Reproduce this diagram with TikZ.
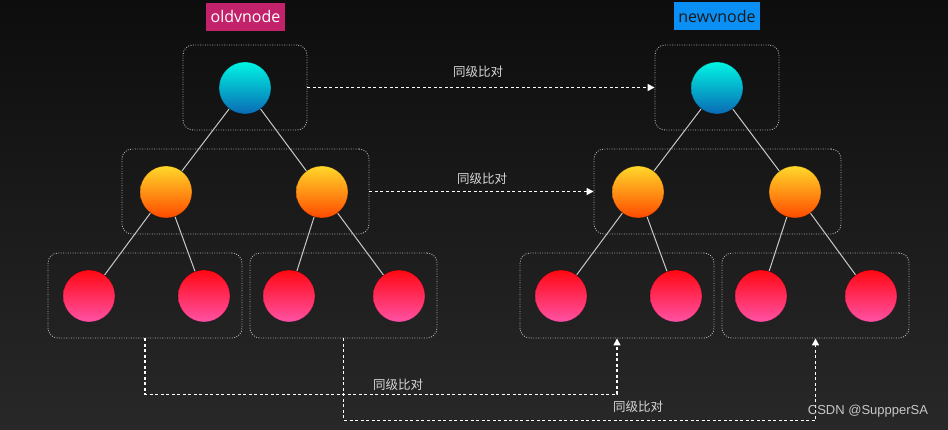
\documentclass[tikz,border=0pt]{standalone}
\usepackage{fontspec}
\setmainfont{Open Sans}
\newfontfamily\cjk{Noto Sans CJK SC}
\newfontfamily\wmfont{Liberation Sans}
\usetikzlibrary{arrows.meta}
\definecolor{bgtop}{HTML}{0D0D0D}
\definecolor{bgbot}{HTML}{282828}
\definecolor{grpc}{HTML}{B4B4B4}
\definecolor{edgec}{HTML}{C8C8C8}
\definecolor{lblc}{HTML}{D8D8D8}
\definecolor{cyT}{HTML}{00F5E4}
\definecolor{cyB}{HTML}{0A6AB4}
\definecolor{orT}{HTML}{FFD82A}
\definecolor{orB}{HTML}{FF4A00}
\definecolor{rdT}{HTML}{FF0812}
\definecolor{rdB}{HTML}{FF52A6}
\definecolor{oldc}{HTML}{C2226A}
\definecolor{newc}{HTML}{0A8FF5}
\begin{document}
\begin{tikzpicture}[x=1pt,y=-1pt,
  grp/.style={draw=grpc, line width=0.9pt, dash pattern=on 0.9pt off 1.5pt, rounded corners=10pt, minimum height=85pt, inner sep=0pt},
  ball/.style={circle, minimum size=52pt, inner sep=0pt, draw=black, draw opacity=0.35, line width=0.6pt},
  cyanb/.style={ball, top color=cyT, bottom color=cyB},
  orangeb/.style={ball, top color=orT, bottom color=orB},
  redb/.style={ball, top color=rdT, bottom color=rdB},
  link/.style={draw=edgec, line width=1pt},
  cmp/.style={draw=white, line width=1.3pt, dash pattern=on 3pt off 2.5pt, -{Triangle[length=7pt,width=7pt]}},
  lbl/.style={font=\cjk\fontsize{12.5}{14}\selectfont, text=lblc},
  title/.style={font=\fontsize{16}{18}\selectfont, minimum height=28pt, inner sep=0pt}
]
\useasboundingbox (0,0) rectangle (948,430);
\fill[top color=bgtop, bottom color=bgbot] (0,0) rectangle (948,430);

% titles
\node[title, fill=oldc, text=white, minimum width=79pt] (told) at (245.5,17) {oldvnode};
\node[title, fill=newc, text=black!90, minimum width=86pt] (tnew) at (717,16.5) {newvnode};

% group boxes left
\node[grp, minimum width=124pt] (gl1) at (245,87.5) {};
\node[grp, minimum width=247pt] (gl2) at (245.5,191.5) {};
\node[grp, minimum width=194pt] (gl3a) at (145,295.5) {};
\node[grp, minimum width=187pt] (gl3b) at (343.5,295.5) {};
% group boxes right
\node[grp, minimum width=124pt] (gr1) at (717,87.5) {};
\node[grp, minimum width=247pt] (gr2) at (717.5,191.5) {};
\node[grp, minimum width=194pt] (gr3a) at (617,295.5) {};
\node[grp, minimum width=187pt] (gr3b) at (815.5,295.5) {};

% left tree
\node[cyanb] (la) at (245,88) {};
\node[orangeb] (lb) at (166,192) {};
\node[orangeb] (lc) at (322,192) {};
\node[redb] (ld) at (89,296) {};
\node[redb] (le) at (204,296) {};
\node[redb] (lf) at (289,296) {};
\node[redb] (lg) at (399,296) {};
% right tree
\node[cyanb] (ra) at (717,88) {};
\node[orangeb] (rb) at (638,192) {};
\node[orangeb] (rc) at (795,192) {};
\node[redb] (rd) at (561,296) {};
\node[redb] (re) at (676,296) {};
\node[redb] (rf) at (761,296) {};
\node[redb] (rg) at (871,296) {};

\draw[link] (la) -- (lb);
\draw[link] (la) -- (lc);
\draw[link] (lb) -- (ld);
\draw[link] (lb) -- (le);
\draw[link] (lc) -- (lf);
\draw[link] (lc) -- (lg);
\draw[link] (ra) -- (rb);
\draw[link] (ra) -- (rc);
\draw[link] (rb) -- (rd);
\draw[link] (rb) -- (re);
\draw[link] (rc) -- (rf);
\draw[link] (rc) -- (rg);

% comparisons
\draw[cmp] (gl1.east) -- (gr1.west);
\draw[cmp] (gl2.east) -- (gr2.west);
\draw[cmp] (gl3a.south) -- ++(0,56) -| (gr3a.south);
\draw[cmp] (gl3b.south) -- ++(0,82) -| (gr3b.south);

\node[lbl] (c1) at (478,72) {同级比对};
\node[lbl] (c2) at (482,179) {同级比对};
\node[lbl] (c3) at (398,385) {同级比对};
\node[lbl] (c4) at (638,407) {同级比对};

\node[font=\wmfont\fontsize{13}{15}\selectfont, text=black!22] (wm) at (868,411) {CSDN @SuppperSA};
\end{tikzpicture}
\end{document}
